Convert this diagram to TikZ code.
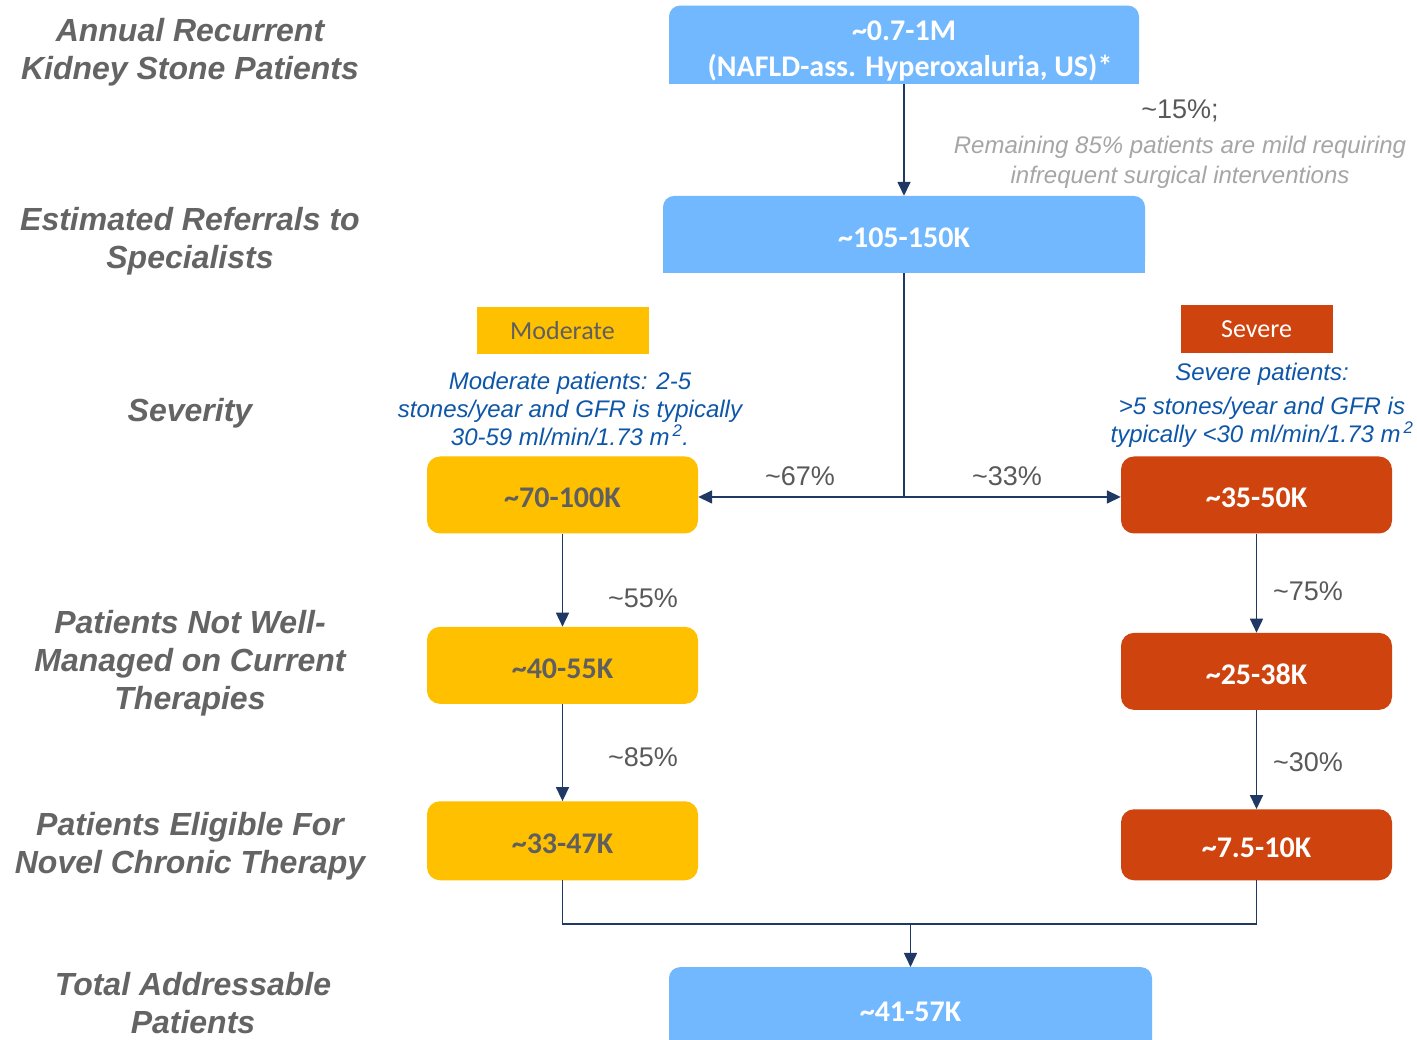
\documentclass[tikz,border=0pt]{standalone}
\usepackage{fontspec}
\setmainfont{Liberation Sans}
\newfontfamily\calibfont{Carlito}
\usepackage{tikz}
\usetikzlibrary{positioning, arrows.meta, backgrounds}
\definecolor{skyblue}{HTML}{71B8FF}
\definecolor{gold}{HTML}{FFC000}
\definecolor{rust}{HTML}{CF430E}
\definecolor{navy}{HTML}{203864}
\definecolor{labelgray}{HTML}{646464}
\definecolor{pctgray}{HTML}{595959}
\definecolor{notegray}{HTML}{A6A6A6}
\definecolor{noteblue}{HTML}{0E57A8}
\definecolor{boxgray}{HTML}{5F5F5F}

\begin{document}
\begin{tikzpicture}[
  x=1pt, y=1pt,
  every node/.style={inner sep=0pt},
  rowlabel/.style={text=labelgray, align=center, font=\bfseries\itshape\fontsize{32}{38}\selectfont},
  bluebox/.style={
    fill=skyblue, rounded corners=11pt, text=white, align=center,
    minimum height=77pt, font=\calibfont\bfseries\fontsize{30}{36}\selectfont
  },
  modbox/.style={
    fill=gold, rounded corners=13pt, text=boxgray, text height=26pt, text depth=0pt,
    minimum width=271pt, minimum height=77pt, font=\calibfont\bfseries\fontsize{30}{36}\selectfont
  },
  sevbox/.style={modbox, fill=rust, text=white},
  tag/.style={minimum height=47pt, font=\calibfont\fontsize{26}{30}\selectfont},
  note/.style={text=noteblue, align=center, font=\itshape\fontsize{24}{28}\selectfont},
  pct/.style={text=pctgray, font=\fontsize{27}{32}\selectfont},
  link/.style={navy, line width=1.6pt},
  arrow/.style={link, -{Triangle[length=14pt, width=13pt]}}
]
  \useasboundingbox (0,0) rectangle (1417,1040);
  \clip (0,0) rectangle (1417,1040);

  % row labels
  \node[rowlabel] (lblannual) at (190,988) {Annual Recurrent\\Kidney Stone Patients};
  \node[rowlabel] (lblreferral) at (190,799) {Estimated Referrals to\\Specialists};
  \node[rowlabel] (lblseverity) at (190,627) {Severity};
  \node[rowlabel] (lblunmanaged) at (190,377) {Patients Not Well-\\Managed on Current\\Therapies};
  \node[rowlabel] (lbleligible) at (190,194) {Patients Eligible For\\Novel Chronic Therapy};
  \node[rowlabel] (lbltotal) at (193,37) {Total Addressable\\Patients};

  % funnel
  \node[bluebox, minimum width=482pt, text height=27pt, text depth=0pt] (referrals) at (904,805.5) {\textasciitilde 105-150K};
  \node[bluebox, minimum width=470pt, minimum height=78pt, above=112pt of referrals] (annual)
    {\rule{0pt}{32pt}\textasciitilde 0.7-1M\\\hspace*{12pt}(NAFLD-ass. Hyperoxaluria, US)*};

  \node[modbox] (mod1) at (562.5,545) {\textasciitilde 70-100K};
  \node[modbox, below=93pt of mod1] (mod2) {\textasciitilde 40-55K};
  \node[modbox, minimum height=79pt, below=97pt of mod2] (mod3) {\textasciitilde 33-47K};

  \node[sevbox] (sev1) at (1256.5,545) {\textasciitilde 35-50K};
  \node[sevbox, below=99pt of sev1] (sev2) {\textasciitilde 25-38K};
  \node[sevbox, minimum height=71pt, below=99pt of sev2] (sev3) {\textasciitilde 7.5-10K};

  \node[bluebox, minimum width=483pt, minimum height=90pt, anchor=north] (total) at (910.5,73) {\textasciitilde 41-57K};

  % severity tags and notes
  \node[tag, fill=gold, text=boxgray, minimum width=172pt, above=102pt of mod1] (modtag) {Moderate};
  \node[tag, fill=rust, text=white, minimum width=152pt, minimum height=48pt, above=103pt of sev1] (sevtag) {Severe};
  \node[note] (modnote) at (570,631.5)
    {Moderate patients: 2-5\\stones/year and GFR is typically\\30-59 ml/min/1.73 m\textsuperscript{\,2}.};
  \node[note] (sevnote) at (1262,635)
    {Severe patients:\\[6pt]>5 stones/year and GFR is\\typically <30 ml/min/1.73 m\textsuperscript{\,2}};

  % percentages
  \node[pct] (pct15) at (1180,929) {\textasciitilde 15\%;};
  \node[text=notegray, align=center, font=\itshape\fontsize{24}{30}\selectfont] (mildnote) at (1180,878)
    {Remaining 85\% patients are mild requiring\\infrequent surgical interventions};
  \node[pct] (pct67) at (800,564) {\textasciitilde 67\%};
  \node[pct] (pct33) at (1007,564) {\textasciitilde 33\%};
  \node[pct] (pct55) at (643,442) {\textasciitilde 55\%};
  \node[pct] (pct85) at (643,283) {\textasciitilde 85\%};
  \node[pct] (pct75) at (1308,449) {\textasciitilde 75\%};
  \node[pct] (pct30) at (1308,278) {\textasciitilde 30\%};

  % connectors
  \coordinate (split) at (referrals.south |- 0,543);
  \coordinate (join) at (total.north |- 0,116);
  \draw[arrow] (annual) -- (referrals);
  \draw[link] (referrals) -- (split);
  \draw[arrow] (split) -- (split -| mod1.east);
  \draw[arrow] (split) -- (split -| sev1.west);
  \draw[arrow] (mod1) -- (mod2);
  \draw[arrow] (mod2) -- (mod3);
  \draw[arrow] (sev1) -- (sev2);
  \draw[arrow] (sev2) -- (sev3);
  \draw[link] (mod3) |- (join) -| (sev3);
  \draw[arrow] (join) -- (total);

  \begin{scope}[on background layer]
    \fill[white] (0,0) rectangle (1417,1040);
    \fill[skyblue] (annual.west) rectangle (annual.south east);
    \fill[skyblue] (referrals.west) rectangle (referrals.south east);
  \end{scope}
\end{tikzpicture}
\end{document}
